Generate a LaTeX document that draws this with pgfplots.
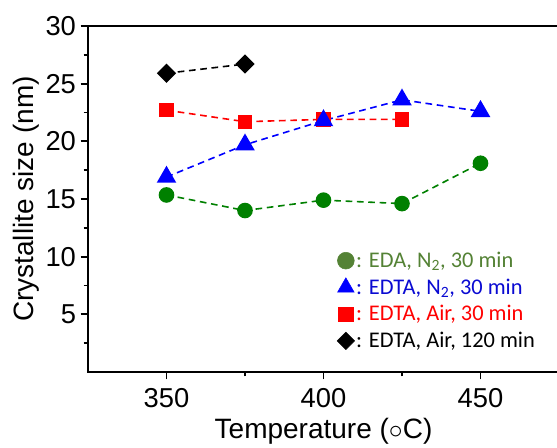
\documentclass[border=0pt]{standalone}
\usepackage{pgfplots}
\pgfplotsset{compat=1.18}
\usepackage{fontspec}
\setmainfont{Liberation Sans}
\newfontfamily\calib{Carlito}
\definecolor{pgreen}{RGB}{0,128,0}
\definecolor{lgreen}{RGB}{84,130,53}
\definecolor{pblue}{RGB}{0,0,255}
\definecolor{lblue}{RGB}{10,10,210}
\definecolor{pred}{RGB}{255,0,0}
\begin{document}
\begin{tikzpicture}
\begin{axis}[
  at={(0pt,0pt)}, anchor=south west,
  scale only axis, width=353.25pt, height=259.5pt,
  xmin=325, xmax=475, ymin=0, ymax=30,
  clip=false,
  axis lines*=left,
  axis line style={line width=1.5pt, line cap=rect},
  xtick={350,400,450}, minor xtick={375,425},
  ytick={5,10,15,20,25,30}, minor ytick={2.5,7.5,12.5,17.5,22.5,27.5},
  tick align=outside,
  major tick length=5.5pt, minor tick length=3.2pt,
  every tick/.style={line width=1.3pt, black},
  /pgf/number format/assume math mode=true,
  tick label style={font=\fontsize{20.5}{24}\selectfont},
  xticklabel style={yshift=-3pt},
  xlabel={Temperature ($\circ$C)},
  ylabel={Crystallite size (nm)},
  label style={font=\fontsize{21}{25}\selectfont},
  xlabel style={yshift=-1pt},
  ylabel style={yshift=-2pt},
  legend image code/.code={\draw[mark repeat=2,mark phase=2,#1] plot coordinates {(0cm,0cm)(0.22cm,0cm)(0.6cm,0cm)};},
  legend cell align=left,
  legend style={at={(rel axis cs:0.52,0.36)}, anchor=north west, draw=none, fill=none,
     font=\calib\fontsize{16.8}{19}\selectfont, row sep=4.6pt,
     nodes={inner sep=1.2pt}},
]
% legend images
\addlegendimage{only marks, mark=*, color=lgreen, mark size=6.3pt}
\addlegendentry{\textcolor{lgreen}{: EDA, N\textsubscript{2}, 30 min}}
\addlegendimage{only marks, mark=triangle*, color=pblue, mark size=7.2pt}
\addlegendentry{\textcolor{lblue}{: EDTA, N\textsubscript{2}, 30 min}}
\addlegendimage{only marks, mark=square*, color=pred, mark size=5.5pt}
\addlegendentry{\textcolor{pred}{: EDTA, Air, 30 min}}
\addlegendimage{only marks, mark=square*, mark options={rotate=45}, color=black, mark size=4.6pt}
\addlegendentry{\textcolor{black}{: EDTA, Air, 120 min}}

\addplot[forget plot, color=pgreen, line width=1.2pt, dash pattern=on 5pt off 3.5pt,
  mark=*, mark size=5.25pt, mark options={solid}]
  coordinates {(350,15.35) (375,14.0) (400,14.9) (425,14.6) (450,18.1)};
\addplot[forget plot, color=pred, line width=1.2pt, dash pattern=on 5pt off 3.5pt,
  mark=square*, mark size=4.75pt, mark options={solid}]
  coordinates {(350,22.7) (375,21.7) (400,21.9) (425,21.9)};
\addplot[forget plot, color=pblue, line width=1.2pt, dash pattern=on 5pt off 3.5pt,
  mark=triangle*, mark size=7.3pt, mark options={solid}]
  coordinates {(350,16.9) (375,19.7) (400,21.8) (425,23.6) (450,22.6)};
\addplot[forget plot, color=black, line width=1.2pt, dash pattern=on 5pt off 3.5pt,
  mark=square*, mark size=4.5pt, mark options={solid, rotate=45}]
  coordinates {(350,25.9) (375,26.7)};

\draw[line width=1.5pt, line cap=rect] (rel axis cs:0,1) -- (rel axis cs:1,1);
\end{axis}
\pgfresetboundingbox
\path (-66pt,-57pt) rectangle (351.75pt,279pt);
\end{tikzpicture}
\end{document}
